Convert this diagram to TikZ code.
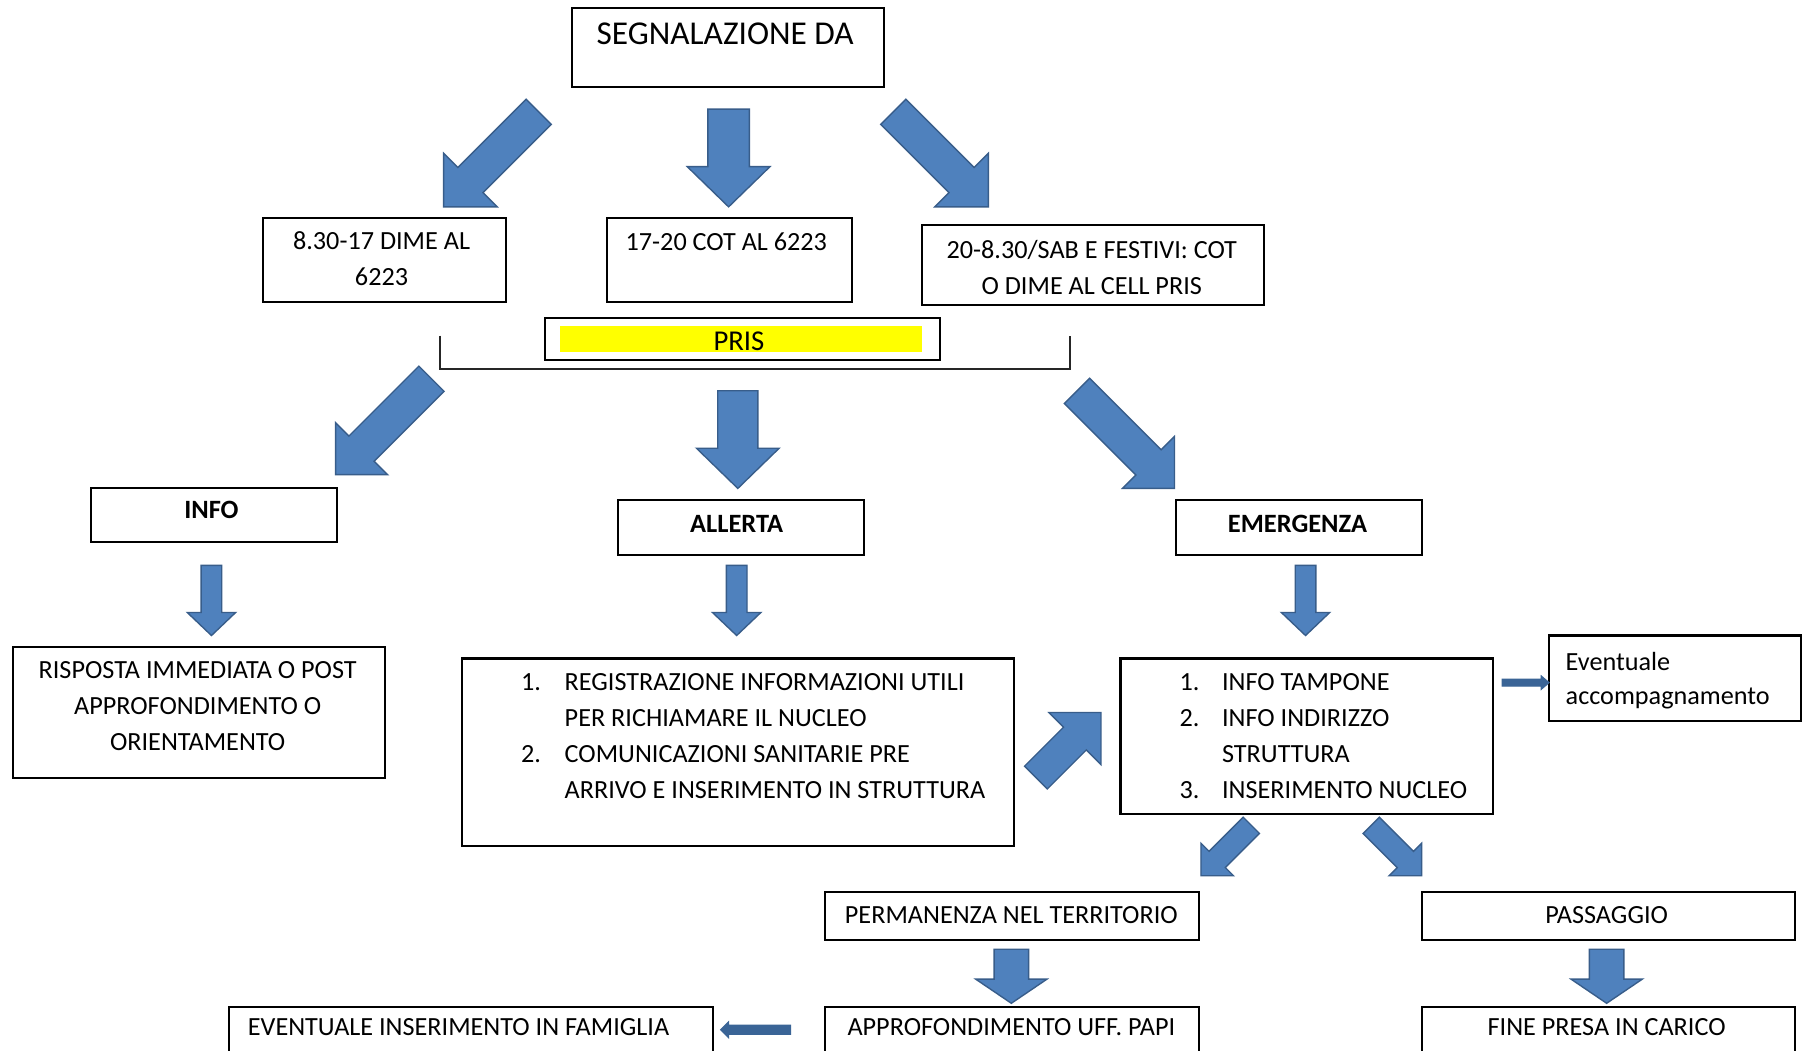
\documentclass[tikz,border=0pt]{standalone}
\usepackage{fontspec}
\setmainfont{Carlito}
\usetikzlibrary{fit}
\definecolor{arrfill}{HTML}{4F81BD}
\definecolor{arrline}{HTML}{385D8A}
\definecolor{arrdark}{HTML}{3A6496}
\definecolor{prisyellow}{HTML}{FFFF00}
% style, tip x, tip y, direction angle, total length, shaft half width, head half width, head length
\newcommand\blockarrow[8]{%
  \begin{scope}[shift={(#2,#3)}, rotate=#4]
    \filldraw[#1] (-#5,-#6) -- (-#8,-#6) -- (-#8,-#7) -- (0,0) -- (-#8,#7) -- (-#8,#6) -- (-#5,#6) -- cycle;
  \end{scope}}
\tikzset{
  box/.style={draw=black, line width=0.9pt, inner sep=0pt},
  txt/.style={font=\fontsize{11.4}{15.5}\selectfont, inner sep=0pt, align=center, text=black},
  listtxt/.style={font=\fontsize{11.4}{15.6}\selectfont, inner sep=0pt, align=left, anchor=north west},
  boldtxt/.style={font=\fontsize{11.5}{14}\selectfont\bfseries, inner sep=0pt},
  titletxt/.style={font=\fontsize{14.5}{17}\selectfont, inner sep=0pt},
  bigarrow/.style={fill=arrfill, draw=arrline, line width=0.6pt, line join=miter},
  smallarrow/.style={fill=arrdark, draw=arrdark, line width=0.4pt},
  bracketline/.style={draw=black!85, line width=0.8pt}
}
\begin{document}
\begin{tikzpicture}[x=0.5pt, y=0.5pt]
\useasboundingbox (0,0) rectangle (1568,-914);
\fill[white] (0,0) rectangle (1568,-914);

% ---------- boxes ----------
\node[box, fit={(498,-7) (769,-76)}] (seg) {};
\node[box, fit={(229,-190) (440,-263)}] (b1) {};
\node[box, fit={(528,-190) (741,-263)}] (b2) {};
\node[box, fit={(802,-196) (1100,-265)}] (b3) {};
\node[box, fit={(474,-277) (818,-313)}] (pris) {};
\fill[prisyellow] (487,-284) rectangle (802,-306);
\draw[bracketline] (383,-292) -- (383,-321) -- (931,-321) -- (931,-292);

\node[box, fit={(79,-425) (293,-472)}] (info) {};
\node[box, fit={(538,-435) (752,-483)}] (allerta) {};
\node[box, fit={(1023,-435) (1237,-483)}] (emerg) {};

\node[box, fit={(11,-563) (335,-677)}] (risp) {};
\node[box, fit={(402,-573) (882,-736)}] (allist) {};
\node[box, fit={(975,-573) (1299,-708)}] (emlist) {};
\node[box, fit={(1348,-553) (1567,-627)}] (event) {};

\node[box, fit={(718,-776) (1043,-818)}] (perm) {};
\node[box, fit={(1237,-776) (1562,-818)}] (pass) {};
\node[box, fit={(199,-876) (620,-940)}] (evinf) {};
\node[box, fit={(718,-876) (1043,-940)}] (appr) {};
\node[box, fit={(1237,-876) (1562,-940)}] (fine) {};

% ---------- texts ----------
\node[titletxt] (segt) at (631,-29) {SEGNALAZIONE DA};
\node[txt] (b1t) at (332,-225) {8.30-17 DIME AL\\6223};
\node[txt] (b2t) at (632,-210) {17-20 COT AL 6223};
\node[txt] (b3t) at (950,-232.5) {20-8.30/SAB E FESTIVI: COT\\O DIME AL CELL PRIS};
\node[txt, font=\fontsize{12.5}{15}\selectfont] (prist) at (643,-297) {PRIS};
\node[boldtxt] (infot) at (184,-444) {INFO};
\node[boldtxt] (allertat) at (641,-456) {ALLERTA};
\node[boldtxt] (emergt) at (1129,-456) {EMERGENZA};
\node[txt, font=\fontsize{11.4}{15.75}\selectfont] (rispt) at (172,-614.5) {RISPOSTA IMMEDIATA O POST\\APPROFONDIMENTO O\\ORIENTAMENTO};
\node[listtxt] (allistt) at (453,-586) {\makebox[19pt][l]{1.}REGISTRAZIONE INFORMAZIONI UTILI\\
  \hspace*{19pt}PER RICHIAMARE IL NUCLEO\\
  \makebox[19pt][l]{2.}COMUNICAZIONI SANITARIE PRE\\
  \hspace*{19pt}ARRIVO E INSERIMENTO IN STRUTTURA};
\node[listtxt] (emlistt) at (1026,-586) {\makebox[18.5pt][l]{1.}INFO TAMPONE\\
  \makebox[18.5pt][l]{2.}INFO INDIRIZZO\\
  \hspace*{18.5pt}STRUTTURA\\
  \makebox[18.5pt][l]{3.}INSERIMENTO NUCLEO};
\node[listtxt, font=\fontsize{11.4}{15}\selectfont] (eventt) at (1362,-567) {Eventuale\\accompagnamento};
\node[txt] (permt) at (880,-796) {PERMANENZA NEL TERRITORIO};
\node[txt] (passt) at (1398,-796) {PASSAGGIO};
\node[txt] (evinft) at (399,-894) {EVENTUALE INSERIMENTO IN FAMIGLIA};
\node[txt] (apprt) at (880,-894) {APPROFONDIMENTO UFF. PAPI};
\node[txt] (finet) at (1398,-894) {FINE PRESA IN CARICO};

% ---------- block arrows ----------
% row 1
\blockarrow{bigarrow}{386}{-180}{225}{117}{15.5}{33}{33}
\blockarrow{bigarrow}{634}{-180}{270}{85}{18}{36}{35}
\blockarrow{bigarrow}{860}{-180}{315}{117}{15.5}{33}{33}
% row 2
\blockarrow{bigarrow}{292}{-413}{225}{118}{15.5}{32}{32}
\blockarrow{bigarrow}{642}{-425}{270}{85}{17.5}{36}{35}
\blockarrow{bigarrow}{1022}{-425}{315}{120}{15.5}{32}{32}
% row 3
\blockarrow{bigarrow}{184}{-553}{270}{61}{9}{21}{20}
\blockarrow{bigarrow}{641}{-553}{270}{61}{9}{21}{20}
\blockarrow{bigarrow}{1136}{-553}{270}{61}{9}{21}{20}
% allerta list -> emergenza list
\blockarrow{bigarrow}{958}{-620}{45}{80}{14}{32}{32}
% emergenza list -> eventuale
\blockarrow{smallarrow}{1348}{-594}{0}{41}{3}{6}{7}
% emergenza list -> permanenza / passaggio
\blockarrow{bigarrow}{1045}{-762}{225}{62}{10}{20}{20}
\blockarrow{bigarrow}{1237}{-762}{315}{62}{10}{20}{20}
% down to bottom row
\blockarrow{bigarrow}{880}{-873}{270}{47}{15}{31}{21}
\blockarrow{bigarrow}{1398}{-873}{270}{47}{15}{31}{21}
% approfondimento -> eventuale inserimento
\blockarrow{smallarrow}{627}{-896}{180}{61}{4}{7}{7}
\end{tikzpicture}
\end{document}
